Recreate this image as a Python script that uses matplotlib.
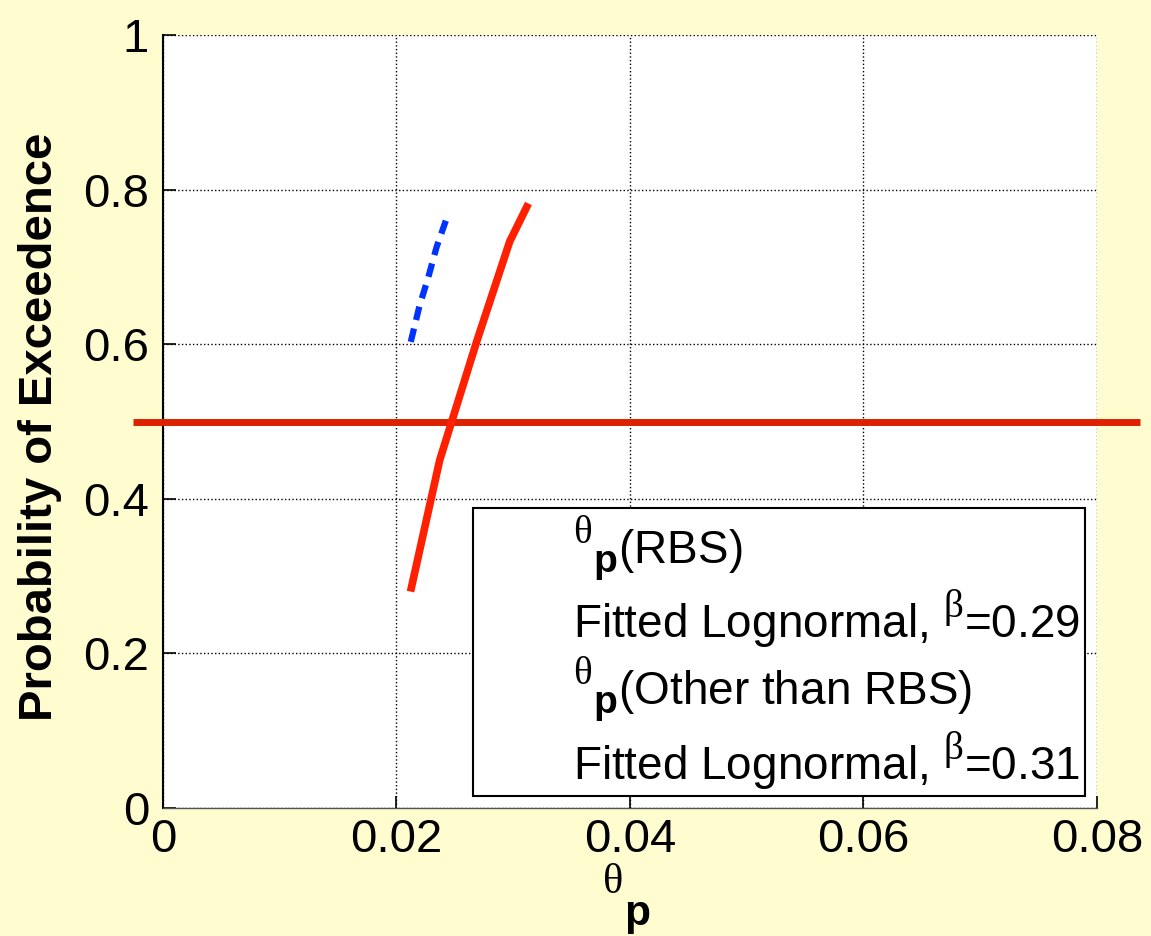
import numpy as np
import matplotlib
matplotlib.use("Agg")
import matplotlib.pyplot as plt
import matplotlib._mathtext as mt
from matplotlib.lines import Line2D

# scripts in the original are big and sit far from the baseline
mt.SHRINK_FACTOR = 0.85
mt.FontConstantsBase.sup1 = 0.95
mt.FontConstantsBase.sub1 = 0.43

plt.rcParams['font.family'] = ['Liberation Sans', 'DejaVu Sans']
plt.rcParams['mathtext.fontset'] = 'custom'
plt.rcParams['mathtext.rm'] = 'Liberation Serif'
plt.rcParams['mathtext.it'] = 'Liberation Serif'
plt.rcParams['mathtext.bf'] = 'Liberation Sans:bold'

# fitted lognormal, RBS (red)
rbs_theta = [0.0212, 0.0237, 0.0269, 0.0297, 0.0313]
rbs_prob = [0.28, 0.45, 0.605, 0.733, 0.782]

# fitted lognormal, other than RBS (blue dashed)
other_theta = [0.02122, 0.02196, 0.02273, 0.02344, 0.02444]
other_prob = [0.603, 0.649, 0.687, 0.726, 0.769]

median_level = 0.5
median_span = [-0.0026, 0.0837]

legend_labels = [r'$^{\mathrm{\theta}}{}_{\mathbf{p}}$(RBS)',
                 r'Fitted Lognormal, $^{\mathrm{\beta}}$=0.29',
                 r'$^{\mathrm{\theta}}{}_{\mathbf{p}}$(Other than RBS)',
                 r'Fitted Lognormal, $^{\mathrm{\beta}}$=0.31']

bg = '#fffdd0'
fig = plt.figure(figsize=(11.51, 9.36), dpi=100, facecolor=bg)
ax = fig.add_axes([163/1151, 1-808/936, 934/1151, 773/936])
ax.set_facecolor('white')

ax.plot(median_span, [median_level, median_level], color='#dd2200', lw=5,
        clip_on=False, zorder=3, solid_capstyle='butt')
red, = ax.plot(rbs_theta, rbs_prob, color='#ff2000', lw=5.5, zorder=4,
               solid_capstyle='butt')
blue, = ax.plot(other_theta, other_prob, color='#0033ff', lw=4.5, zorder=4,
                linestyle=(0, (2.2, 1.4)), dash_capstyle='butt')

ax.set_xlim(0, 0.08)
ax.set_ylim(0, 1)
ax.set_xticks([0, 0.02, 0.04, 0.06, 0.08])
ax.set_xticklabels(['0', '0.02', '0.04', '0.06', '0.08'])
ax.set_yticks([0, 0.2, 0.4, 0.6, 0.8, 1])
ax.set_yticklabels(['0', '0.2', '0.4', '0.6', '0.8', '1'])
ax.grid(True, linestyle=':', color='black', lw=1.0)
ax.tick_params(direction='in', length=9, width=1.2, labelsize=34, pad=10)
ax.tick_params(axis='x', pad=7)
for s in ['top', 'right']:
    ax.spines[s].set_visible(False)
ax.spines['left'].set_linewidth(1.5)
ax.spines['bottom'].set_linewidth(1.0)
ax.spines['bottom'].set_color('#555555')

ax.set_ylabel('Probability of Exceedence', fontsize=34, fontweight='bold')
ax.yaxis.set_label_coords(-0.108, 0.493)
ax.set_xlabel(r'$^{\mathrm{\theta}}{}_{\mathbf{p}}$', fontsize=36)
ax.xaxis.set_label_coords(0.496, -0.069)

handles = [Line2D([], [], color='none'), red, Line2D([], [], color='none'), blue]
leg = ax.legend(handles, legend_labels, loc='lower right', fontsize=33,
                frameon=True, fancybox=False, edgecolor='black', framealpha=1,
                handlelength=1.56, labelspacing=0.12, borderaxespad=0.26,
                borderpad=0.12, handletextpad=0.5)
leg.get_frame().set_linewidth(1.5)
for h in leg.legend_handles:
    h.set_visible(False)

fig.savefig('out.png', dpi=100, facecolor=bg)
